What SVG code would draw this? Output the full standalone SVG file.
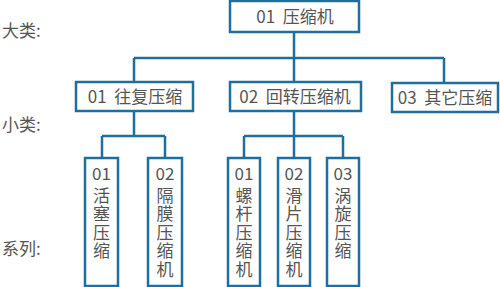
<svg xmlns="http://www.w3.org/2000/svg" width="500" height="287" viewBox="0 0 500 287">
<style>
.box{fill:#fff;stroke:#1f6f9c;stroke-width:2.5}
.ln{fill:none;stroke:#1f6f9c;stroke-width:2.5}
text{font-family:"Noto Sans CJK SC","Liberation Sans",sans-serif;fill:#555;font-size:17px}
.c{text-anchor:middle}
</style>
<rect width="500" height="287" fill="#fff"/>
<g id="connectors">
<path class="ln" d="M294,32V82M134,58H444M134,58V82M444,58V83"/>
<path class="ln" d="M134,111V136M102,136H165M102,136V158M165,136V158"/>
<path class="ln" d="M294,111V136M244,136H343M244,136V158M294,136V158M343,136V158"/>
</g>
<g id="labels">
<text x="2" y="37">大类:</text>
<text x="2" y="131">小类:</text>
<text x="2" y="255">系列:</text>
</g>
<g id="n-root"><rect class="box" x="230" y="1" width="129" height="31"/><text class="c" x="295" y="23" xml:space="preserve">01  压缩机</text></g>
<g id="n-recip"><rect class="box" x="76" y="82" width="117" height="29"/><text class="c" x="135" y="103" xml:space="preserve">01  往复压缩</text></g>
<g id="n-rot"><rect class="box" x="230" y="82" width="131" height="29"/><text class="c" x="295" y="103" xml:space="preserve">02  回转压缩机</text></g>
<g id="n-other"><rect class="box" x="392" y="83" width="106" height="29"/><text class="c" x="445" y="104" xml:space="preserve">03  其它压缩</text></g>
<g id="n-piston"><rect class="box" x="85" y="158" width="33" height="128"/><text class="c" x="101.5" y="180">01</text><text class="c" x="101.5" y="202">活</text><text class="c" x="101.5" y="220">塞</text><text class="c" x="101.5" y="239">压</text><text class="c" x="101.5" y="257">缩</text></g>
<g id="n-diaph"><rect class="box" x="148" y="158" width="34" height="128"/><text class="c" x="165" y="180">02</text><text class="c" x="165" y="202">隔</text><text class="c" x="165" y="220">膜</text><text class="c" x="165" y="239">压</text><text class="c" x="165" y="257">缩</text><text class="c" x="165" y="276">机</text></g>
<g id="n-screw"><rect class="box" x="228" y="158" width="32" height="128"/><text class="c" x="244" y="180">01</text><text class="c" x="244" y="202">螺</text><text class="c" x="244" y="220">杆</text><text class="c" x="244" y="239">压</text><text class="c" x="244" y="257">缩</text><text class="c" x="244" y="276">机</text></g>
<g id="n-vane"><rect class="box" x="278" y="158" width="32" height="128"/><text class="c" x="294" y="180">02</text><text class="c" x="294" y="202">滑</text><text class="c" x="294" y="220">片</text><text class="c" x="294" y="239">压</text><text class="c" x="294" y="257">缩</text><text class="c" x="294" y="276">机</text></g>
<g id="n-scroll"><rect class="box" x="327" y="158" width="32" height="128"/><text class="c" x="343" y="180">03</text><text class="c" x="343" y="202">涡</text><text class="c" x="343" y="220">旋</text><text class="c" x="343" y="239">压</text><text class="c" x="343" y="257">缩</text></g>
</svg>
